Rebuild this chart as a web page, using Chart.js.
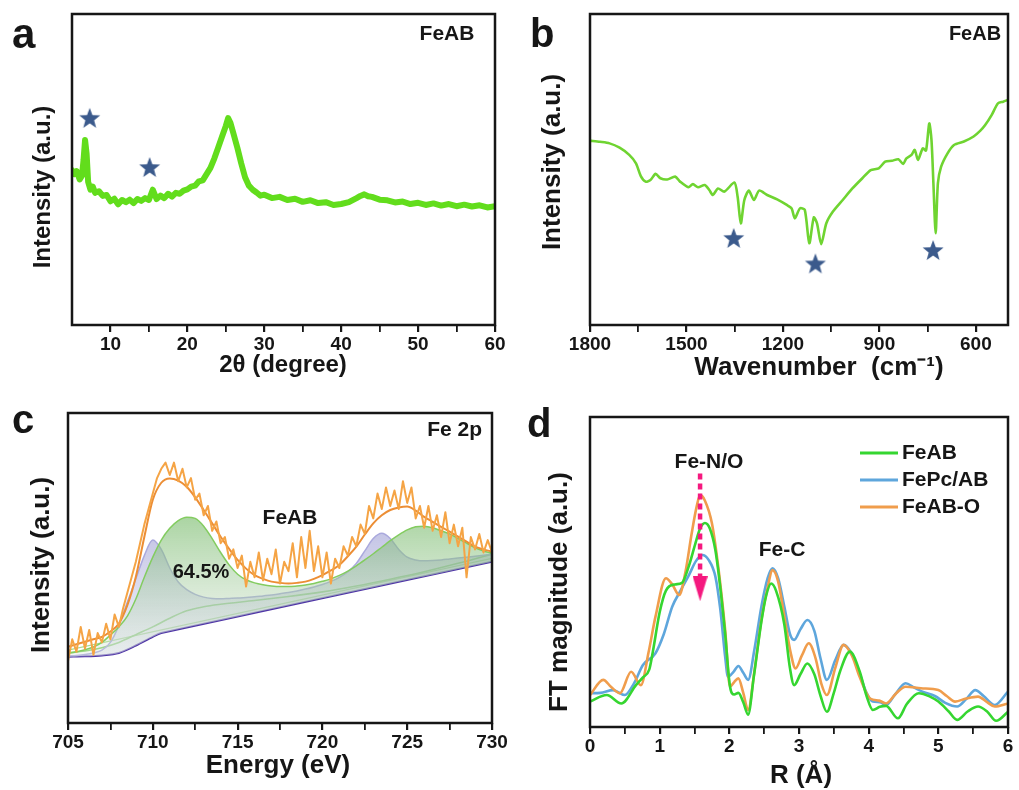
<!DOCTYPE html>
<html>
<head>
<meta charset="utf-8">
<script src="https://cdn.jsdelivr.net/npm/chart.js@4.4.1/dist/chart.umd.min.js"></script>
<style>
  html, body { margin: 0; padding: 0; background: #fff; }
  #wrap { position: relative; width: 1019px; height: 790px; background: #fff; }
  canvas { position: absolute; }
</style>
</head>
<body>
<div id="wrap">
  <canvas id="chartA" width="510" height="390" style="left:0;top:0"></canvas>
  <canvas id="chartB" width="509" height="390" style="left:510px;top:0"></canvas>
  <canvas id="chartC" width="510" height="400" style="left:0;top:390px"></canvas>
  <canvas id="chartD" width="509" height="400" style="left:510px;top:390px"></canvas>
</div>
<script>
// ============================================================
// FeAB characterisation — four panels (XRD, FTIR, XPS Fe 2p, EXAFS)
// ============================================================

const FONT = '"Liberation Sans", Arial, Helvetica, sans-serif';
const INK = '#161616';
const STAR_BLUE = '#3b5a8c';

// ---------- a: XRD ----------
const xrdAngle = [5.0, 5.3, 5.6, 6.0, 6.3, 6.5, 6.7, 6.9, 7.1, 7.4, 7.7, 8.0, 8.5, 9.0, 9.5,
    10.0, 10.5, 11.0, 11.5, 12.0, 12.5, 13.0, 13.5, 14.0, 14.5, 15.0, 15.5, 16.0, 16.5, 17.0,
    17.5, 18.0, 18.5, 19.0, 19.5, 20.0, 20.5, 21.0, 21.5, 22.0, 22.5, 23.0, 23.5, 24.0, 24.5,
    25.0, 25.3, 25.6, 26.0, 26.5, 27.0, 27.5, 28.0, 28.5, 29.0, 29.5, 30.0, 31.0, 32.0, 33.0,
    34.0, 35.0, 36.0, 37.0, 38.0, 39.0, 40.0, 41.0, 42.0, 42.5, 43.0, 43.5, 44.0, 45.0, 46.0,
    47.0, 48.0, 49.0, 50.0, 51.0, 52.0, 53.0, 54.0, 55.0, 56.0, 57.0, 58.0, 59.0, 60.0];
const xrdIntensity = [49.8, 48.5, 49.5, 46.8, 48.0, 53.0, 59.5, 55.0, 46.0, 43.5, 44.5, 42.5, 43.0, 41.5, 41.8,
    39.8, 40.6, 38.8, 40.2, 39.5, 40.3, 39.2, 40.5, 39.9, 40.8, 40.2, 43.5, 40.5, 41.6, 40.8,
    42.2, 41.3, 42.5, 42.2, 43.2, 43.6, 44.5, 44.8, 46.2, 46.5, 48.5, 50.5, 53.5, 57.0, 60.5,
    64.0, 66.5, 65.0, 61.5, 57.0, 52.0, 47.5, 44.8, 43.5, 42.6, 41.6, 41.9, 40.8, 41.2, 40.2,
    40.6, 39.6, 40.1, 39.2, 39.5, 38.6, 38.9, 39.5, 40.8, 41.5, 42.0, 41.4, 41.2, 40.3, 40.1,
    39.4, 39.7, 38.9, 39.3, 38.6, 39.1, 38.4, 38.9, 38.2, 38.7, 38.1, 38.5, 37.8, 38.2];
const xrdStarAngle = [7.3, 15.1];
const xrdStarLevel = [66.6, 50.8];
const xrdTicks = [10, 15, 20, 25, 30, 35, 40, 45, 50, 55, 60];
const xrdTickLabels = [10, 20, 30, 40, 50, 60];

// ---------- b: FTIR ----------
const irWavenumber = [1800, 1769, 1739, 1708, 1678, 1657, 1642, 1627, 1612, 1596, 1581, 1560, 1535,
    1520, 1494, 1480, 1464, 1443, 1429, 1418, 1402, 1382, 1351, 1341, 1331, 1320, 1306, 1290, 1274,
    1249, 1218, 1188, 1173, 1163, 1147, 1132, 1118, 1104, 1094, 1081, 1065, 1045, 1014, 984, 953,
    927, 902, 882, 861, 841, 826, 816, 800, 790, 780, 765, 755, 745, 738, 732, 725, 718, 708, 688,
    668, 637, 607, 586, 571, 551, 531, 515, 500];
const irIntensity = [59.3, 58.9, 58.4, 57.0, 54.7, 52.0, 47.9, 46.1, 46.6, 48.6, 47.2, 46.8, 47.7,
    46.1, 44.3, 45.3, 44.3, 45.0, 43.4, 41.8, 43.9, 42.9, 45.8, 41.3, 32.7, 40.2, 43.2, 40.2, 43.2,
    41.8, 40.4, 38.6, 37.5, 34.3, 37.5, 37.0, 26.3, 34.6, 32.7, 26.0, 32.7, 36.4, 40.2, 43.9, 47.2,
    49.8, 50.4, 52.5, 52.8, 53.3, 51.8, 53.6, 54.7, 56.3, 53.1, 56.8, 56.1, 64.8, 59.5, 45.6, 29.5,
    45.6, 50.9, 55.2, 57.9, 59.0, 60.6, 62.5, 64.3, 67.5, 71.3, 71.8, 72.4];
const irStarWavenumber = [1353, 1099, 733];
const irStarLevel = [28.0, 19.8, 24.1];
const irTicks = [600, 750, 900, 1050, 1200, 1350, 1500, 1650, 1800];
const irTickLabels = [600, 900, 1200, 1500, 1800];

// ---------- c: XPS Fe 2p ----------
const xpsStart = 705;
const xpsRawStep = 0.25;
const xpsRaw = [20, 27, 23, 31, 24, 30, 22, 29, 26, 32, 27, 35, 31, 37, 42, 47,
    52, 58, 64, 69, 74, 79, 82, 84, 80, 84, 78, 82, 76, 79, 72, 74,
    67, 70, 62, 65, 58, 60, 53, 56, 50, 54, 44, 52, 47, 55, 46, 53,
    48, 56, 45, 52, 49, 58, 47, 60, 50, 62, 49, 57, 47, 55, 45, 53,
    50, 57, 54, 60, 57, 64, 61, 70, 66, 74, 69, 76, 70, 75, 69, 78,
    71, 76, 66, 70, 63, 70, 62, 67, 60, 68, 58, 64, 57, 63, 47, 60,
    56, 61, 55, 59, 55];
const xpsFitStep = 0.5;
const xpsEnvelope = [24.6, 25.4, 26.2, 27.0, 27.8, 29.5, 32.1, 38.0, 47.2, 60.0,
    72.0, 77.5, 78.9, 78.2, 76.2, 72.8, 68.7, 64.4, 60.1, 56.2,
    52.6, 49.8, 47.7, 46.5, 45.6, 45.2, 45.0, 45.2, 45.6, 46.5,
    47.7, 49.2, 51.0, 53.8, 56.9, 60.8, 64.4, 67.0, 68.7, 69.5,
    69.8, 68.5, 66.5, 64.9, 63.3, 61.7, 60.1, 58.5, 56.9, 56.0, 55.3];
const xpsFe2Comp = [21.6, 21.8, 22.1, 22.6, 23.5, 26.0, 31.5, 39.0, 46.5, 54.0,
    59.0, 56.0, 50.0, 45.5, 43.0, 41.5, 40.6, 40.2, 40.1, 40.2,
    40.3, 40.5, 40.7, 41.0, 41.3, 41.7, 42.1, 42.6, 43.2, 43.9,
    44.7, 45.7, 47.0, 48.8, 51.5, 55.5, 59.5, 61.2, 59.5, 56.0,
    53.5, 52.6, 52.3, 52.4, 52.6, 52.9, 53.2, 53.5, 53.8, 54.1, 54.4];
const xpsFe3Comp = [22.5, 23.0, 23.6, 24.5, 26.0, 28.4, 31.0, 34.5, 40.0, 47.0,
    53.5, 59.0, 62.8, 65.3, 66.4, 66.0, 63.5, 59.5, 55.0, 51.0,
    48.0, 46.2, 45.2, 44.6, 44.2, 44.0, 44.0, 44.2, 44.5, 45.0,
    45.7, 46.5, 47.6, 49.0, 50.7, 52.6, 54.6, 56.7, 58.8, 60.7,
    62.3, 63.3, 63.5, 63.0, 62.0, 61.0, 59.5, 58.0, 56.5, 55.5, 54.8];
const xpsBaseEnergy = [705, 706, 707, 708, 709, 710, 710.5, 730];
const xpsBaseLevel = [21.4, 21.5, 21.8, 22.6, 25.0, 27.8, 29.0, 52.0];
const xpsBgEnergy = [705, 706, 707, 708, 709, 710, 711, 712, 713, 714, 716, 718, 720, 722, 724, 726, 728, 730];
const xpsBgLevel = [22.6, 23.2, 24.3, 26.0, 28.5, 31.0, 33.8, 36.2, 37.5, 38.3, 39.5, 40.8, 42.3, 44.2, 46.4, 48.8, 51.5, 54.5];
const xpsLineEnergy = [705, 730];
const xpsLineLevel = [23.5, 53.1];
const xpsTicks = [705, 707.5, 710, 712.5, 715, 717.5, 720, 722.5, 725, 727.5, 730];
const xpsTickLabels = [705, 710, 715, 720, 725, 730];

// ---------- d: EXAFS FT ----------
const feabR = [0, 0.24, 0.45, 0.66, 0.76, 0.85, 0.90, 1.00, 1.09, 1.22, 1.32, 1.42, 1.51, 1.58, 1.65,
    1.72, 1.80, 1.87, 1.94, 2.01, 2.07, 2.13, 2.20, 2.27, 2.35, 2.46, 2.53, 2.60, 2.67, 2.79, 2.87,
    2.93, 3.02, 3.12, 3.22, 3.31, 3.40, 3.50, 3.59, 3.73, 3.87, 3.97, 4.06, 4.16, 4.25, 4.42, 4.55,
    4.72, 4.88, 5.00, 5.15, 5.27, 5.42, 5.57, 5.70, 5.83, 6.00];
const feabFT = [8.2, 10.3, 7.6, 13.5, 16.0, 18.5, 24.0, 37.0, 44.0, 46.0, 46.5, 52.0, 59.0, 64.0, 65.8,
    64.0, 57.0, 45.0, 30.0, 13.0, 10.5, 11.0, 8.0, 4.0, 16.0, 34.0, 42.5, 46.3, 44.0, 33.0, 19.0,
    13.5, 17.0, 20.5, 17.0, 10.0, 4.9, 11.0, 18.0, 24.3, 18.0, 10.0, 5.5, 6.5, 6.8, 2.8, 7.5,
    10.9, 9.8, 8.2, 5.0, 2.3, 5.0, 6.6, 5.0, 2.0, 4.9];
const fepcR = [0, 0.15, 0.33, 0.50, 0.63, 0.76, 0.94, 1.06, 1.18, 1.30, 1.42, 1.52, 1.61, 1.70, 1.80,
    1.87, 1.94, 1.98, 2.06, 2.13, 2.20, 2.27, 2.36, 2.46, 2.55, 2.62, 2.70, 2.79, 2.87, 2.93, 3.02,
    3.12, 3.22, 3.31, 3.40, 3.52, 3.64, 3.76, 3.87, 3.97, 4.06, 4.16, 4.25, 4.38, 4.53, 4.65, 4.77,
    4.95, 5.10, 5.27, 5.40, 5.53, 5.65, 5.81, 6.00];
const fepcFT = [10.9, 11.0, 11.9, 10.3, 14.0, 20.0, 23.8, 30.0, 38.8, 44.0, 49.0, 53.5, 55.5, 54.0, 48.5,
    38.0, 22.7, 16.2, 17.8, 19.7, 17.5, 15.2, 25.0, 38.8, 48.0, 51.2, 48.0, 38.8, 30.0, 28.1, 31.5,
    34.5, 31.0, 22.0, 15.2, 21.5, 26.5, 23.5, 17.3, 11.0, 8.2, 8.0, 7.1, 10.5, 14.1, 12.8, 11.4,
    10.0, 7.8, 6.6, 9.0, 11.9, 10.0, 7.1, 11.4];
const feaboR = [0, 0.19, 0.30, 0.43, 0.59, 0.73, 0.84, 0.94, 1.09, 1.18, 1.28, 1.37, 1.46, 1.53, 1.58,
    1.65, 1.75, 1.85, 1.94, 2.01, 2.07, 2.13, 2.20, 2.27, 2.36, 2.46, 2.55, 2.62, 2.70, 2.79, 2.88,
    2.95, 3.04, 3.14, 3.24, 3.32, 3.40, 3.52, 3.64, 3.76, 3.87, 4.02, 4.15, 4.25, 4.40, 4.53, 4.75,
    5.00, 5.12, 5.24, 5.40, 5.57, 5.70, 5.81, 6.00];
const feaboFT = [10.3, 15.2, 13.0, 10.9, 17.8, 13.5, 24.0, 35.6, 48.0, 46.0, 42.6, 50.0, 62.5, 71.0, 74.8,
    73.0, 65.7, 50.0, 31.3, 13.0, 14.5, 15.7, 11.0, 5.5, 18.0, 34.5, 45.0, 50.6, 47.0, 35.6, 24.0,
    18.9, 23.0, 27.0, 22.0, 14.0, 10.3, 19.0, 26.5, 23.0, 16.2, 9.2, 8.5, 7.6, 11.0, 13.0, 12.5,
    11.9, 10.0, 8.2, 9.2, 9.8, 8.0, 6.6, 7.6];
const arrowR = 1.58;
const arrowLevels = [81.8, 47.0];
const arrowTipLevel = 44.6;
const exafsTicks = [0, 0.5, 1, 1.5, 2, 2.5, 3, 3.5, 4, 4.5, 5, 5.5, 6];
const exafsTickLabels = [0, 1, 2, 3, 4, 5, 6];

// ------------------------------------------------------------
// helpers
// ------------------------------------------------------------
const pts = (xs, ys) => xs.map((x, i) => ({ x, y: ys[i] }));
const grid = (start, step, n) => Array.from({ length: n }, (_, i) => start + i * step);

function makeStar(r, color) {
    const c = document.createElement('canvas');
    c.width = c.height = Math.ceil(2 * r + 2);
    const g = c.getContext('2d');
    g.fillStyle = color;
    g.beginPath();
    for (let i = 0; i < 10; i++) {
        const rad = i % 2 ? r * 0.42 : r;
        const a = -Math.PI / 2 + i * Math.PI / 5;
        g.lineTo(c.width / 2 + rad * Math.cos(a), c.height / 2 + 1 + rad * Math.sin(a));
    }
    g.closePath();
    g.fill();
    return c;
}

function makeArrowHead(w, h, color) {
    const c = document.createElement('canvas');
    c.width = w; c.height = h;
    const g = c.getContext('2d');
    g.fillStyle = color;
    g.beginPath();
    g.moveTo(0, 0); g.lineTo(w, 0); g.lineTo(w / 2, h);
    g.closePath();
    g.fill();
    return c;
}

function xAxis({ min, max, reverse = false, ticks, labels, height }) {
    return {
        type: 'linear', min, max, reverse,
        afterBuildTicks: s => { s.ticks = ticks.map(v => ({ value: v })); },
        afterFit: s => { s.height = height; },
        ticks: {
            autoSkip: false, maxRotation: 0, padding: 1,
            color: INK,
            font: { family: FONT, size: 19, weight: 'bold' },
            callback: v => labels.includes(v) ? String(v) : '',
        },
        grid: {
            drawOnChartArea: false, tickLength: 7, color: INK,
            lineWidth: c => (c.tick && labels.includes(c.tick.value)) ? 2.2 : 1.8,
        },
        border: { display: false },
    };
}

function baseOptions(pad, xScale) {
    return {
        responsive: false,
        animation: false,
        devicePixelRatio: 1,
        layout: { padding: pad },
        plugins: { legend: { display: false }, tooltip: { enabled: false } },
        elements: { point: { radius: 0 }, line: { borderJoinStyle: 'round', borderCapStyle: 'round' } },
        scales: { x: xScale, y: { display: false, min: 0, max: 100 } },
    };
}

// frame around the plot area
const framePlugin = {
    id: 'frame',
    afterDatasetsDraw(chart) {
        const { ctx, chartArea: a } = chart;
        ctx.save();
        ctx.strokeStyle = INK;
        ctx.lineWidth = 2.5;
        ctx.strokeRect(a.left, a.top, a.right - a.left, a.bottom - a.top);
        ctx.restore();
    },
};

// free text: panel letters, axis titles, annotations
function textPlugin(items) {
    return {
        id: 'panelText',
        afterDraw(chart) {
            const ctx = chart.ctx;
            items.forEach(t => {
                ctx.save();
                ctx.translate(t.x, t.y);
                if (t.rotate) ctx.rotate(t.rotate);
                ctx.font = `bold ${t.size}px ${FONT}`;
                ctx.fillStyle = t.color || INK;
                ctx.textAlign = t.align || 'center';
                ctx.textBaseline = t.baseline || 'middle';
                ctx.fillText(t.text, 0, 0);
                ctx.restore();
            });
        },
    };
}

// legend drawn inside plot d
const lineLegend = {
    id: 'lineLegend',
    afterDatasetsDraw(chart) {
        const ctx = chart.ctx;
        chart.data.datasets.filter(d => d.inLegend).forEach((d, i) => {
            const y = 63 + i * 27;
            ctx.save();
            ctx.strokeStyle = d.borderColor;
            ctx.lineWidth = 3;
            ctx.beginPath(); ctx.moveTo(350, y); ctx.lineTo(388, y); ctx.stroke();
            ctx.font = `bold 21px ${FONT}`;
            ctx.fillStyle = INK;
            ctx.textAlign = 'left';
            ctx.textBaseline = 'middle';
            ctx.fillText(d.label, 392, y);
            ctx.restore();
        });
    },
};

const star = makeStar(11, STAR_BLUE);
const LEFT = -Math.PI / 2;

// ------------------------------------------------------------
// a — XRD
// ------------------------------------------------------------
new Chart(document.getElementById('chartA'), {
    type: 'line',
    data: {
        datasets: [
            { data: pts(xrdStarAngle, xrdStarLevel), showLine: false, pointStyle: star, pointRadius: 10, order: 0 },
            { data: pts(xrdAngle, xrdIntensity), borderColor: '#62dd1c', borderWidth: 6, tension: 0, order: 1 },
        ],
    },
    options: baseOptions({ left: 72, right: 15, top: 14, bottom: 0 },
        xAxis({ min: 5, max: 60, ticks: xrdTicks, labels: xrdTickLabels, height: 65 })),
    plugins: [framePlugin, textPlugin([
        { text: 'a', x: 12, y: 48, size: 42, align: 'left', baseline: 'alphabetic' },
        { text: 'FeAB', x: 447, y: 34, size: 21 },
        { text: 'Intensity (a.u.)', x: 43, y: 187, size: 24, rotate: LEFT },
        { text: '2\u03b8 (degree)', x: 283, y: 365, size: 24 },
    ])],
});

// ------------------------------------------------------------
// b — FTIR
// ------------------------------------------------------------
new Chart(document.getElementById('chartB'), {
    type: 'line',
    data: {
        datasets: [
            { data: pts(irStarWavenumber, irStarLevel), showLine: false, pointStyle: star, pointRadius: 10, order: 0 },
            { data: pts(irWavenumber, irIntensity), borderColor: '#6fd431', borderWidth: 2.6, tension: 0.25, order: 1 },
        ],
    },
    options: baseOptions({ left: 80, right: 6, top: 14, bottom: 0 },
        xAxis({ min: 500, max: 1800, reverse: true, ticks: irTicks, labels: irTickLabels, height: 65 })),
    plugins: [framePlugin, textPlugin([
        { text: 'b', x: 20, y: 47, size: 40, align: 'left', baseline: 'alphabetic' },
        { text: 'FeAB', x: 465, y: 34, size: 20 },
        { text: 'Intensity (a.u.)', x: 43, y: 162, size: 26, rotate: LEFT },
        { text: 'Wavenumber  (cm\u207b\u00b9)', x: 309, y: 368, size: 26 },
    ])],
});

// ------------------------------------------------------------
// c — XPS Fe 2p
// ------------------------------------------------------------
function vGradient(top, bottom) {
    return ctx => {
        const area = ctx.chart.chartArea;
        if (!area) return top;
        const g = ctx.chart.ctx.createLinearGradient(0, area.top, 0, area.bottom);
        g.addColorStop(0.3, top);
        g.addColorStop(0.8, bottom);
        return g;
    };
}
const rawEnergy = grid(xpsStart, xpsRawStep, xpsRaw.length);
const fitEnergy = grid(xpsStart, xpsFitStep, xpsEnvelope.length);

new Chart(document.getElementById('chartC'), {
    type: 'line',
    data: {
        datasets: [
            { data: pts(xpsBaseEnergy, xpsBaseLevel), borderColor: '#4f35a6', borderWidth: 2, tension: 0.3, order: 6 },
            { data: pts(xpsBgEnergy, xpsBgLevel), borderColor: '#86d466', borderWidth: 1.6, cubicInterpolationMode: 'monotone', order: 5 },
            { data: pts(xpsLineEnergy, xpsLineLevel), borderColor: '#a9dc8e', borderWidth: 1.4, order: 5 },
            { data: pts(fitEnergy, xpsFe2Comp), borderColor: '#aaa9dd', borderWidth: 1.5, cubicInterpolationMode: 'monotone',
              fill: 0, backgroundColor: vGradient('rgba(140,140,205,0.62)', 'rgba(215,218,235,0.35)'), order: 4 },
            { data: pts(fitEnergy, xpsFe3Comp), borderColor: '#83cc60', borderWidth: 1.5, cubicInterpolationMode: 'monotone',
              fill: 0, backgroundColor: vGradient('rgba(105,180,90,0.62)', 'rgba(220,228,222,0.3)'), order: 3 },
            { data: pts(fitEnergy, xpsEnvelope), borderColor: '#ec8e35', borderWidth: 2, cubicInterpolationMode: 'monotone', order: 1 },
            { data: pts(rawEnergy, xpsRaw), borderColor: '#f5a445', borderWidth: 2, tension: 0, order: 0 },
        ],
    },
    options: baseOptions({ left: 68, right: 18, top: 23, bottom: 0 },
        xAxis({ min: 705, max: 730, ticks: xpsTicks, labels: xpsTickLabels, height: 67 })),
    plugins: [framePlugin, textPlugin([
        { text: 'c', x: 12, y: 43, size: 40, align: 'left', baseline: 'alphabetic' },
        { text: 'Fe 2p', x: 482, y: 40, size: 21, align: 'right' },
        { text: 'FeAB', x: 290, y: 128, size: 21 },
        { text: '64.5%', x: 201, y: 182, size: 20 },
        { text: 'Intensity (a.u.)', x: 42, y: 175, size: 26, rotate: LEFT },
        { text: 'Energy (eV)', x: 278, y: 376, size: 26 },
    ])],
});

// ------------------------------------------------------------
// d — EXAFS
// ------------------------------------------------------------
const PINK = '#f5197f';
new Chart(document.getElementById('chartD'), {
    type: 'line',
    data: {
        datasets: [
            { data: [{ x: arrowR, y: arrowTipLevel }], showLine: false, pointStyle: makeArrowHead(15, 25, PINK), pointRadius: 10, order: 0 },
            { data: pts([arrowR, arrowR], arrowLevels), borderColor: PINK, borderWidth: 4.5, borderDash: [6, 4], borderCapStyle: 'butt', order: 0 },
            { label: 'FeAB', inLegend: true, data: pts(feabR, feabFT), borderColor: '#35d630', borderWidth: 2.6, cubicInterpolationMode: 'monotone', order: 1 },
            { label: 'FePc/AB', inLegend: true, data: pts(fepcR, fepcFT), borderColor: '#5ea6dc', borderWidth: 2.6, cubicInterpolationMode: 'monotone', order: 3 },
            { label: 'FeAB-O', inLegend: true, data: pts(feaboR, feaboFT), borderColor: '#f09d4c', borderWidth: 2.6, cubicInterpolationMode: 'monotone', order: 2 },
        ],
    },
    options: baseOptions({ left: 80, right: 7, top: 27, bottom: 0 },
        xAxis({ min: 0, max: 6, ticks: exafsTicks, labels: exafsTickLabels, height: 63 })),
    plugins: [framePlugin, lineLegend, textPlugin([
        { text: 'd', x: 17, y: 47, size: 40, align: 'left', baseline: 'alphabetic' },
        { text: 'Fe-N/O', x: 199, y: 72, size: 21 },
        { text: 'Fe-C', x: 272, y: 160, size: 21 },
        { text: 'FT magnitude (a.u.)', x: 50, y: 202, size: 26, rotate: LEFT },
        { text: 'R (\u00c5)', x: 291, y: 386, size: 26 },
    ])],
});
</script>
</body>
</html>
